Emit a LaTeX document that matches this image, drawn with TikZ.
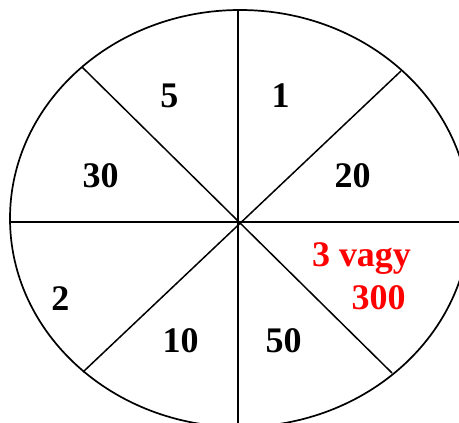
\documentclass[tikz,border=0pt]{standalone}
\usepackage{fontspec}
\setmainfont{Liberation Serif}
\begin{document}
\begin{tikzpicture}[x=1pt,y=1pt,
  rim/.style={line width=1.7pt},
  spoke/.style={line width=1.5pt},
  axis/.style={line width=2pt},
  num/.style={anchor=base,inner sep=0pt,font=\fontsize{36}{39}\selectfont\bfseries},
  rednum/.style={num,text=red}]
\useasboundingbox (0,0) rectangle (459,423);
\clip (0,0) rectangle (459,423);
\fill[white] (0,0) rectangle (459,423);
\draw[rim] (240,204.5) ellipse [x radius=230, y radius=208.5];
\coordinate (c) at (238,200.5);
\coordinate (l) at (10,200.5);
\coordinate (r) at (470,200.5);
\coordinate (t) at (238,413);
\coordinate (b) at (238,-10);
\coordinate (tl) at (82,356);
\coordinate (tr) at (401,352);
\coordinate (bl) at (83,51);
\coordinate (br) at (392,50);
\draw[axis] (l) -- (r);
\draw[axis] (t) -- (b);
\draw[spoke] (tl) -- (br);
\draw[spoke] (tr) -- (bl);
\node[num] (n5) at (169.5,315) {5};
\node[num] (n1) at (280.5,315) {1};
\node[num] (n30) at (100.5,235) {30};
\node[num] (n20) at (352.5,235) {20};
\node[num] (n2) at (60.5,112) {2};
\node[num] (n10) at (180.5,70) {10};
\node[num] (n50) at (283.5,70) {50};
\node[rednum] (n3) at (361.5,156) {3 vagy};
\node[rednum] (n300) at (378.5,113) {300};
\end{tikzpicture}
\end{document}
